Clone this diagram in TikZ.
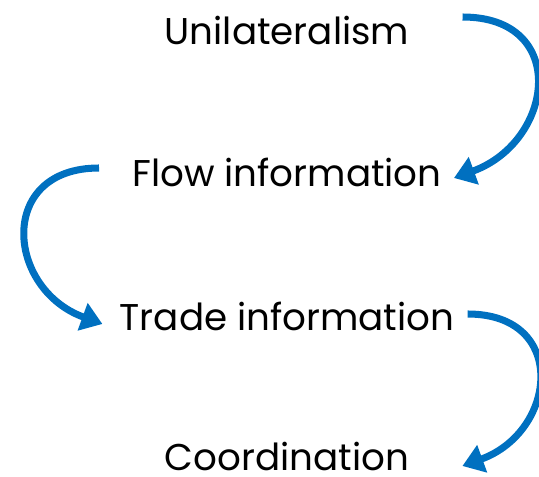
\documentclass[tikz,border=0pt]{standalone}
\usepackage{fontspec}
\setmainfont{Poppins}
\usetikzlibrary{arrows.meta,calc}
\definecolor{stepblue}{HTML}{0070C0}
\begin{document}
\begin{tikzpicture}[scale=0.2]
\tikzstyle{every node}+=[inner sep=0pt,font=\fontsize{21.2}{26}\selectfont]
\tikzstyle{bend arrow}=[stepblue,line width=4pt,-{Triangle[length=12pt,width=16pt]}]
\useasboundingbox (0,0) rectangle (53.9,-47.7);
\node (uni) at (28.7,-3.0) {Unilateralism};
\node (flow) at (28.7,-17.2) {Flow information};
\node (trade) at (28.7,-31.6) {Trade information};
\node (coord) at (28.7,-45.6) {Coordination};
\draw [bend arrow] ($(uni.east)+(5.3,1.3)$) to [out=0,in=20,looseness=1.7] ($(flow.east)+(1.2,-0.6)$);
\draw [bend arrow] ($(flow.west)+(-3.3,0.4)$) to [out=180,in=160,looseness=1.68] ($(trade.west)+(-1.7,-0.8)$);
\draw [bend arrow] ($(trade.east)+(1.3,0.2)$) to [out=0,in=20,looseness=1.7] ($(coord.east)+(5.3,-1.0)$);
\end{tikzpicture}
\end{document}
